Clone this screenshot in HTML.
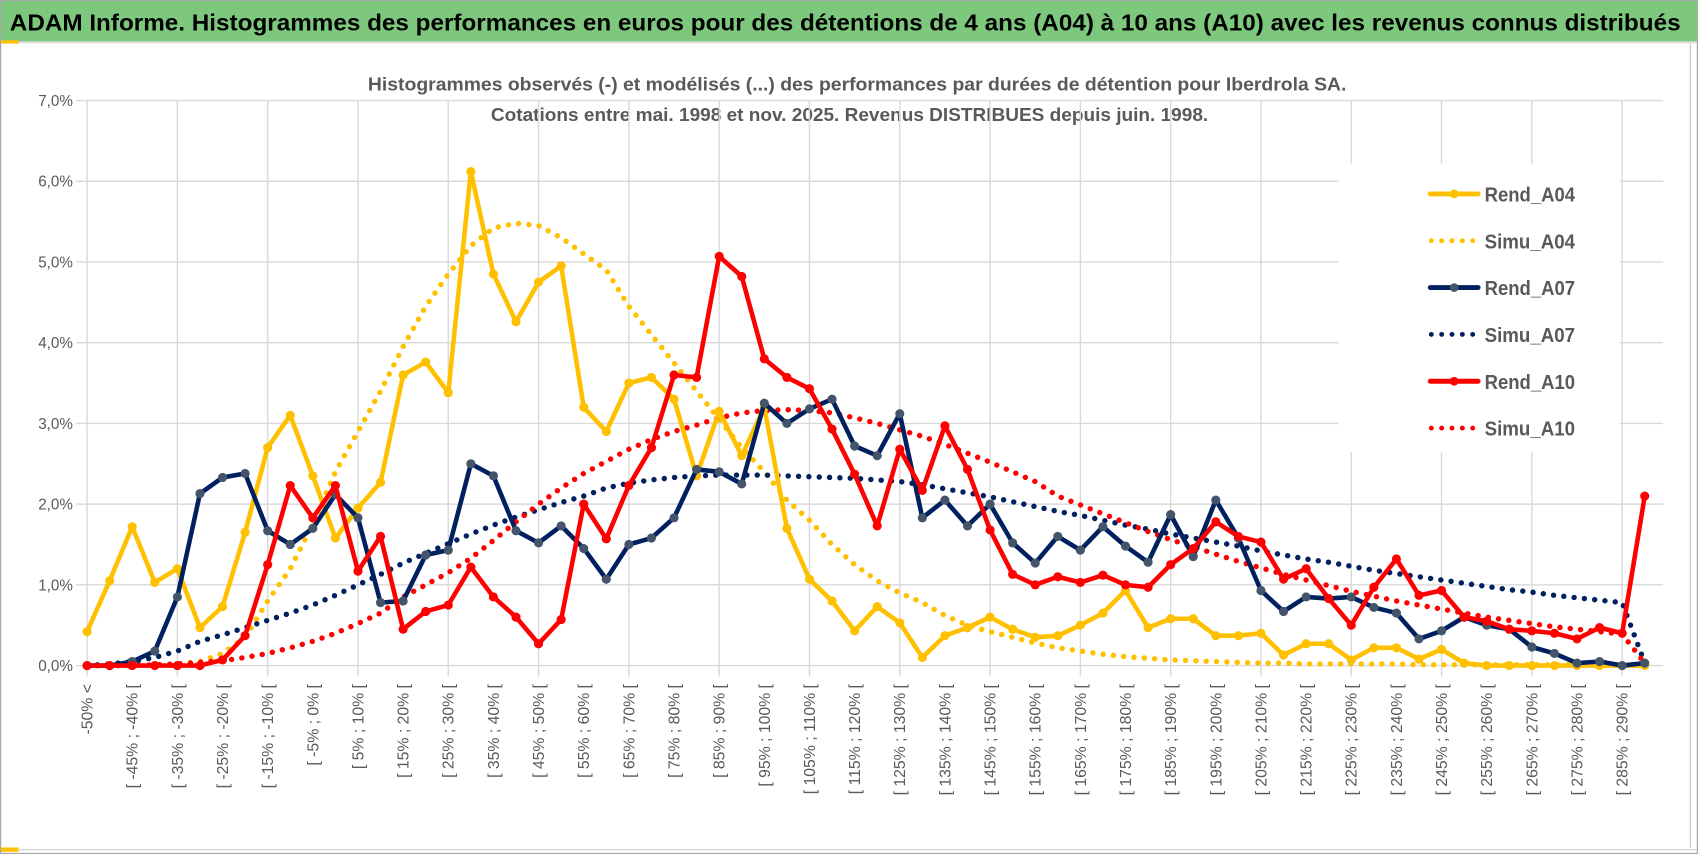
<!DOCTYPE html>
<html><head><meta charset="utf-8">
<style>
html,body{margin:0;padding:0;background:#fff;}
svg{display:block;}
text{font-family:"Liberation Sans Narrow","Liberation Sans",sans-serif;}
</style></head>
<body>
<svg id="chart" width="1698" height="854" viewBox="0 0 1560 784" preserveAspectRatio="none" xmlns="http://www.w3.org/2000/svg">
  <rect x="0" y="0" width="1560" height="784" fill="#fff"/>
  <rect x="0.5" y="0.5" width="1559" height="783" fill="none" stroke="#a6a6a6" stroke-width="1.2"/>
  <rect x="1" y="1" width="1558" height="37" fill="#7dc87c"/>
  <rect x="1" y="37" width="16" height="3" fill="#ffc000"/>
  <line x1="17" y1="39" x2="1559" y2="39" stroke="#d9d9d9" stroke-width="1.5"/>
  <text x="9" y="28" font-size="21" font-weight="bold" fill="#000" textLength="1535" lengthAdjust="spacingAndGlyphs">ADAM Informe. Histogrammes des performances en euros pour des détentions de 4 ans (A04) à 10 ans (A10) avec les revenus connus distribués</text>
  <text x="338" y="83" font-size="17" font-weight="bold" fill="#595959" textLength="899" lengthAdjust="spacingAndGlyphs">Histogrammes observés (-) et modélisés (...) des performances par durées de détention pour Iberdrola SA.</text>
  <text x="451" y="111" font-size="17" font-weight="bold" fill="#595959" textLength="659" lengthAdjust="spacingAndGlyphs">Cotations entre mai. 1998 et nov. 2025. Revenus DISTRIBUES depuis juin. 1998.</text>
  <line x1="17" y1="780" x2="1559" y2="780" stroke="#d9d9d9" stroke-width="1.5"/>
  <rect x="1" y="778" width="16" height="4" fill="#ffc000"/>
  <line x1="1553" y1="40" x2="1553" y2="778" stroke="#bfbfbf" stroke-width="1"/>
  <g id="grid"></g>
  <g id="axes"></g>
  <g id="series"></g>
  <g id="legend"></g>
</svg>
<script>
const categories = ["-50% <"];
for (let k = -50; k <= 290; k += 5) categories.push("[ " + k + "% ; " + (k + 5) + "% [");
const yTicks = [0,1,2,3,4,5,6,7];
const yTickLabels = ["0,0%","1,0%","2,0%","3,0%","4,0%","5,0%","6,0%","7,0%"];
const rendA04 = [0.42,1.05,1.72,1.03,1.2,0.47,0.73,1.65,2.7,3.1,2.35,1.58,1.95,2.27,3.6,3.76,3.38,6.12,4.85,4.26,4.75,4.95,3.2,2.9,3.5,3.57,3.3,2.35,3.15,2.6,3.2,1.7,1.07,0.8,0.43,0.73,0.53,0.1,0.37,0.47,0.6,0.45,0.35,0.37,0.5,0.65,0.93,0.47,0.58,0.58,0.37,0.37,0.4,0.13,0.27,0.27,0.07,0.22,0.22,0.08,0.2,0.03,0,0,0,0,0,0,0,0];
const simuA04 = [0,0,0,0.01,0.02,0.05,0.15,0.35,0.8,1.2,1.75,2.4,2.9,3.4,3.95,4.45,4.85,5.2,5.42,5.48,5.45,5.3,5.1,4.9,4.45,4.1,3.75,3.4,3.05,2.7,2.4,2.05,1.8,1.5,1.25,1.05,0.9,0.78,0.62,0.5,0.42,0.35,0.28,0.22,0.18,0.14,0.11,0.09,0.07,0.06,0.05,0.04,0.03,0.03,0.02,0.02,0.02,0.02,0.02,0.01,0.01,0.01,0.01,0.01,0.01,0.01,0.01,0.01,0.01,0.01];
const rendA07 = [0,0,0.05,0.18,0.85,2.13,2.33,2.38,1.67,1.5,1.7,2.12,1.83,0.78,0.8,1.37,1.43,2.5,2.35,1.67,1.52,1.73,1.45,1.07,1.5,1.58,1.83,2.43,2.4,2.25,3.25,3.0,3.18,3.3,2.72,2.6,3.12,1.83,2.05,1.73,2.0,1.52,1.27,1.6,1.43,1.72,1.48,1.28,1.87,1.35,2.05,1.58,0.93,0.67,0.85,0.83,0.85,0.72,0.65,0.33,0.43,0.6,0.5,0.45,0.23,0.15,0.03,0.05,0,0.03];
const simuA07 = [0,0.02,0.05,0.1,0.18,0.3,0.38,0.47,0.56,0.65,0.75,0.87,1.0,1.13,1.27,1.39,1.51,1.63,1.74,1.84,1.93,2.02,2.1,2.2,2.26,2.3,2.33,2.35,2.36,2.36,2.36,2.35,2.34,2.33,2.32,2.3,2.28,2.24,2.19,2.14,2.09,2.03,1.97,1.91,1.86,1.8,1.74,1.69,1.63,1.58,1.53,1.48,1.42,1.37,1.32,1.28,1.23,1.18,1.14,1.1,1.06,1.02,0.98,0.94,0.91,0.87,0.84,0.81,0.78,0.03];
const rendA10 = [0,0,0,0,0,0,0.07,0.37,1.25,2.23,1.83,2.23,1.17,1.6,0.45,0.67,0.75,1.22,0.85,0.6,0.27,0.57,2.0,1.57,2.23,2.7,3.6,3.57,5.07,4.82,3.8,3.57,3.43,2.93,2.37,1.73,2.68,2.17,2.97,2.43,1.68,1.13,1.0,1.1,1.03,1.12,1.0,0.97,1.25,1.45,1.78,1.6,1.53,1.07,1.2,0.83,0.5,0.97,1.32,0.87,0.93,0.6,0.55,0.45,0.43,0.4,0.33,0.47,0.4,2.1];
const simuA10 = [0,0,0,0.01,0.02,0.04,0.06,0.1,0.15,0.22,0.3,0.4,0.52,0.65,0.85,1.0,1.15,1.33,1.55,1.78,2.0,2.2,2.38,2.53,2.68,2.8,2.9,2.98,3.07,3.13,3.16,3.17,3.16,3.13,3.07,3.0,2.92,2.84,2.74,2.63,2.52,2.4,2.28,2.1,1.99,1.88,1.77,1.66,1.56,1.47,1.38,1.29,1.21,1.13,1.06,0.99,0.92,0.86,0.8,0.75,0.7,0.65,0.6,0.56,0.52,0.48,0.45,0.42,0.39,0.03];

const NS = "http://www.w3.org/2000/svg";
const X0 = 80, STEP = 20.74, Y0 = 611, PER = 74.1;
function xs(i){ return X0 + i * STEP; }
function ys(v){ return Y0 - v * PER; }
function mk(tag, attrs, parent){
  const e = document.createElementNS(NS, tag);
  for (const k in attrs) e.setAttribute(k, attrs[k]);
  parent.appendChild(e);
  return e;
}
const grid = document.getElementById('grid');
const axes = document.getElementById('axes');
const series = document.getElementById('series');
const legend = document.getElementById('legend');

yTicks.forEach((t, k) => {
  const ln = mk('line', {x1: 70, x2: 1528, y1: ys(t), y2: ys(t), stroke: '#d9d9d9', 'stroke-width': 1.3}, grid);
  
  
  const tx = mk('text', {x: 67, y: ys(t) + 5, 'text-anchor': 'end', 'font-size': 14, fill: '#595959'}, axes);
  tx.textContent = yTickLabels[k];
  
  
});
for (let i = 0; i < categories.length; i += 4) {
  const ln = mk('line', {x1: xs(i), x2: xs(i), y1: ys(7), y2: Y0 + 10, stroke: '#d9d9d9', 'stroke-width': 1.3}, grid);
  
  
}
for (let i = 0; i < categories.length; i += 2) {
  const lab = i === 0 ? categories[0] : categories[i];
  const tx = mk('text', {x: 0, y: 0, 'text-anchor': 'end', 'font-size': 14.5, fill: '#595959',
    transform: 'translate(' + (xs(i) + 5) + ',628) rotate(-90)'}, axes);
  tx.textContent = lab;
  
  
}

function dotted(data, color, name){
  const p = mk('polyline', {points: data.map((v, i) => xs(i) + ',' + ys(v)).join(' '), fill: 'none', stroke: color,
    'stroke-width': 5, 'stroke-linecap': 'round', 'stroke-dasharray': '0 9.5'}, series);
  
  
}
function solid(data, color, mcolor, name){
  const g = mk('g', {}, series);
  
  
  mk('polyline', {points: data.map((v, i) => xs(i) + ',' + ys(v)).join(' '), fill: 'none', stroke: color,
    'stroke-width': 4.2, 'stroke-linejoin': 'round'}, g);
  data.forEach((v, i) => {
    const c = mk('circle', {cx: xs(i), cy: ys(v), r: 4.2, fill: mcolor}, g);
    
    
  });
}
dotted(simuA04, '#ffc000', 'simu-a04-line');
dotted(simuA07, '#002060', 'simu-a07-line');
dotted(simuA10, '#ff0000', 'simu-a10-line');
solid(rendA04, '#ffc000', '#ffc000', 'rend-a04-line');
solid(rendA07, '#002060', '#44546a', 'rend-a07-line');
solid(rendA10, '#ff0000', '#ff0000', 'rend-a10-line');

// legend
const lgBg = mk('rect', {x: 1230, y: 150, width: 258, height: 265, fill: '#fff'}, legend);


const legendNames = ["Rend_A04","Simu_A04","Rend_A07","Simu_A07","Rend_A10","Simu_A10"];
const legendColors = ['#ffc000','#ffc000','#002060','#002060','#ff0000','#ff0000'];
const legendMarker = ['#ffc000','#ffc000','#44546a','#44546a','#ff0000','#ff0000'];
const legendRows = [178, 221, 264, 307, 350, 393];
legendNames.forEach((nm, k) => {
  const g = mk('g', {}, legend);
  
  
  const y = legendRows[k];
  if (k % 2 === 0) {
    mk('line', {x1: 1314, x2: 1358, y1: y, y2: y, stroke: legendColors[k], 'stroke-width': 4.5, 'stroke-linecap': 'round'}, g);
    mk('circle', {cx: 1336, cy: y, r: 4, fill: legendMarker[k]}, g);
  } else {
    mk('line', {x1: 1315, x2: 1356, y1: y, y2: y, stroke: legendColors[k], 'stroke-width': 4.5, 'stroke-linecap': 'round', 'stroke-dasharray': '0 9.5'}, g);
  }
  const t = mk('text', {x: 1364, y: y + 7, 'font-size': 19, 'font-weight': 'bold', fill: '#595959', textLength: 83, lengthAdjust: 'spacingAndGlyphs'}, g);
  t.textContent = nm;
});
</script>
</body></html>
